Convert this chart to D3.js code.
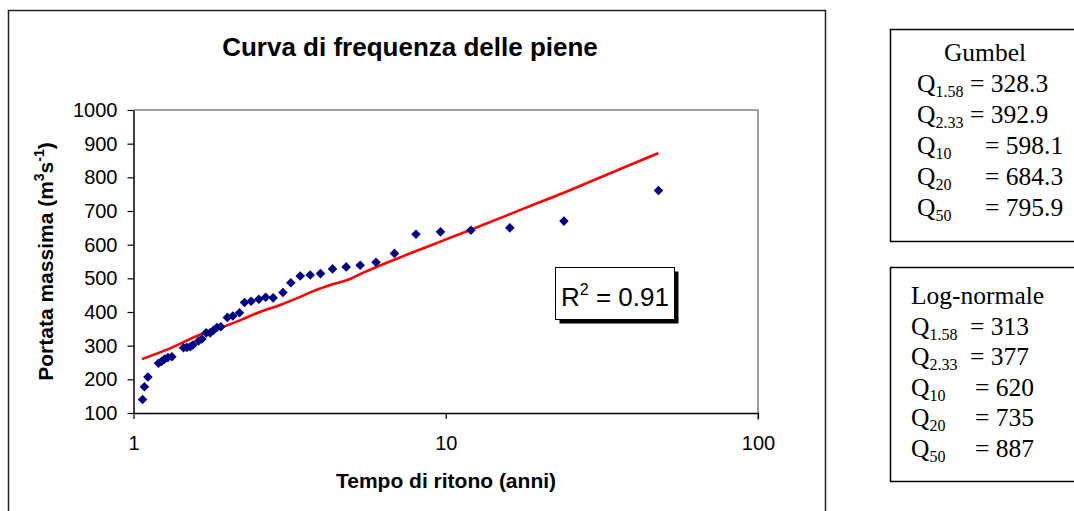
<!DOCTYPE html>
<html>
<head>
<meta charset="utf-8">
<script src="https://cdn.jsdelivr.net/npm/d3@7"></script>
<style>
  html, body { margin: 0; padding: 0; background: #fff; }
  svg { display: block; }
  text { white-space: pre; }
</style>
</head>
<body>
<svg id="chart" width="1074" height="511"></svg>
<script>
// Observed annual peak discharges: return period (years) and peak flow (m3/s)
const returnPeriod = [1.069, 1.084, 1.112, 1.202, 1.229, 1.257, 1.289, 1.327,
  1.446, 1.482, 1.519, 1.549, 1.615, 1.656, 1.709, 1.76, 1.803, 1.85, 1.904,
  1.998, 2.08, 2.185, 2.268, 2.38, 2.52, 2.65, 2.80, 3.01, 3.19, 3.42, 3.68,
  3.97, 4.34, 4.80, 5.32, 5.98, 6.85, 8.03, 9.62, 12.04, 16.04, 23.9, 48.0];
const peakFlow = [140, 178, 207, 248, 253, 260, 265, 267,
  294, 295, 297, 302, 314, 320, 338, 338, 346, 354, 356,
  384, 388, 398, 428, 432, 438, 444, 442, 458, 487, 507, 510,
  514, 528, 534, 539, 548, 574, 631, 638, 643, 650, 670, 761];

// Fitted frequency curve
const fitPeriod = [1.064, 1.31, 1.675, 1.9, 2.2, 2.55, 2.95, 3.42, 3.77, 4.37,
  4.94, 5.45, 7.13, 8.9, 11.7, 16.0, 19.0, 24, 35.6, 48];
const fitFlow = [260, 292, 337, 353, 376, 401, 421, 445, 462, 483,
  498, 517, 562, 597, 640, 690, 718, 755, 822, 872];

const xTicks = [1, 10, 100];
const yTicks = [100, 200, 300, 400, 500, 600, 700, 800, 900, 1000];
const r2Value = "0.91";

// Design quantiles
const quantilePeriods = ["1.58", "2.33", "10", "20", "50"];
const gumbelQ = ["328.3", "392.9", "598.1", "684.3", "795.9"];
const lognormQ = ["313", "377", "620", "735", "887"];

const svg = d3.select("#chart");
const sans = "'Liberation Sans', Arial, sans-serif";
const serif = "'Liberation Serif', 'Times New Roman', serif";

// Outer chart frame
svg.append("rect")
  .attr("x", 8.5).attr("y", 10.5).attr("width", 817).attr("height", 530)
  .attr("fill", "#fff").attr("stroke", "#222").attr("stroke-width", 1.5);

const x = d3.scaleLog().domain([1, 100]).range([133.5, 758]);
const y = d3.scaleLinear().domain([100, 1000]).range([413, 110]);

// Plot border (top/right in grey)
svg.append("path")
  .attr("d", `M${x(1)},${y(1000)}H${x(100)}V${y(100) + 7}`)
  .attr("fill", "none").attr("stroke", "#808080").attr("stroke-width", 1.5);

// Axes
const yAxis = svg.append("g")
  .attr("transform", `translate(${x(1)},0)`)
  .call(d3.axisLeft(y).tickValues(yTicks).tickSize(6).tickSizeOuter(0)
    .tickPadding(10).tickFormat(d3.format("d")));
const xAxis = svg.append("g")
  .attr("transform", `translate(0,${y(100)})`)
  .call(d3.axisBottom(x).tickValues(xTicks).tickSize(6).tickSizeOuter(0)
    .tickPadding(17).tickFormat(d3.format("d")));
[yAxis, xAxis].forEach(g => {
  g.select(".domain").attr("stroke", "#000").attr("stroke-width", 1.5);
  g.selectAll(".tick line").attr("stroke", "#000").attr("stroke-width", 1.2);
  g.selectAll(".tick text").attr("font-family", sans).attr("font-size", 20)
    .attr("fill", "#000");
});

// Fitted curve
svg.append("path")
  .datum(fitPeriod.map((t, i) => [t, fitFlow[i]]))
  .attr("d", d3.line().x(d => x(d[0])).y(d => y(d[1])).curve(d3.curveMonotoneX))
  .attr("fill", "none").attr("stroke", "#ff0000").attr("stroke-width", 2.6)
  .attr("stroke-linejoin", "round");

// Observed peaks
const diamond = d3.symbol().type(d3.symbolSquare).size(46);
svg.append("g").selectAll("path")
  .data(returnPeriod.map((t, i) => [t, peakFlow[i]]))
  .join("path")
  .attr("d", diamond)
  .attr("transform", d => `translate(${x(d[0])},${y(d[1])}) rotate(45)`)
  .attr("fill", "#000080");

// Title
svg.append("text")
  .attr("x", 410).attr("y", 56).attr("text-anchor", "middle")
  .attr("font-family", sans).attr("font-size", 26).attr("font-weight", "bold")
  .text("Curva di frequenza delle piene");

// Axis titles
svg.append("text")
  .attr("x", 446).attr("y", 488).attr("text-anchor", "middle")
  .attr("font-family", sans).attr("font-size", 21).attr("font-weight", "bold")
  .text("Tempo di ritono (anni)");

const yTitle = svg.append("text")
  .attr("transform", `translate(53,${(y(100) + y(1000)) / 2}) rotate(-90)`)
  .attr("text-anchor", "middle")
  .attr("font-family", sans).attr("font-size", 21).attr("font-weight", "bold");
yTitle.append("tspan").text("Portata massima (m");
yTitle.append("tspan").attr("font-size", 14).attr("dy", -9).text("3");
yTitle.append("tspan").attr("dy", 9).text("s");
yTitle.append("tspan").attr("font-size", 14).attr("dy", -9).text("-1");
yTitle.append("tspan").attr("dy", 9).text(")");

// R-squared label with drop shadow
svg.append("rect").attr("x", 559.5).attr("y", 271.5).attr("width", 119).attr("height", 52)
  .attr("fill", "#000");
svg.append("rect").attr("x", 555.5).attr("y", 267.5).attr("width", 119).attr("height", 52)
  .attr("fill", "#fff").attr("stroke", "#000").attr("stroke-width", 1);
const r2 = svg.append("text").attr("x", 561).attr("y", 306)
  .attr("font-family", sans).attr("font-size", 26);
r2.append("tspan").text("R");
r2.append("tspan").attr("font-size", 16).attr("dy", -11).text("2");
r2.append("tspan").attr("dy", 11).text(" = " + r2Value);

// Quantile boxes
function quantileBox(top, height, title, titleX, titleAnchor, qX, eqX, values, y0, step) {
  svg.append("rect").attr("x", 890.5).attr("y", top).attr("width", 220).attr("height", height)
    .attr("fill", "#fff").attr("stroke", "#000").attr("stroke-width", 1.5);
  svg.append("text").attr("x", titleX).attr("y", y0).attr("text-anchor", titleAnchor)
    .attr("font-family", serif).attr("font-size", 25.5).text(title);
  values.forEach((v, i) => {
    const t = svg.append("text").attr("y", y0 + step * (i + 1))
      .attr("font-family", serif).attr("font-size", 25.5);
    t.append("tspan").attr("x", qX).text("Q");
    t.append("tspan").attr("font-size", 16).attr("dy", 5).text(quantilePeriods[i]);
    t.append("tspan").attr("x", eqX[i]).attr("dy", -5).text("= " + v);
  });
}
quantileBox(29.5, 212, "Gumbel", 985, "middle", 917,
  [970, 970, 985, 985, 985], gumbelQ, 61, 31);
quantileBox(267.5, 214, "Log-normale", 911, "start", 911,
  [970, 970, 975, 975, 975], lognormQ, 304, 30.5);
</script>
</body>
</html>
